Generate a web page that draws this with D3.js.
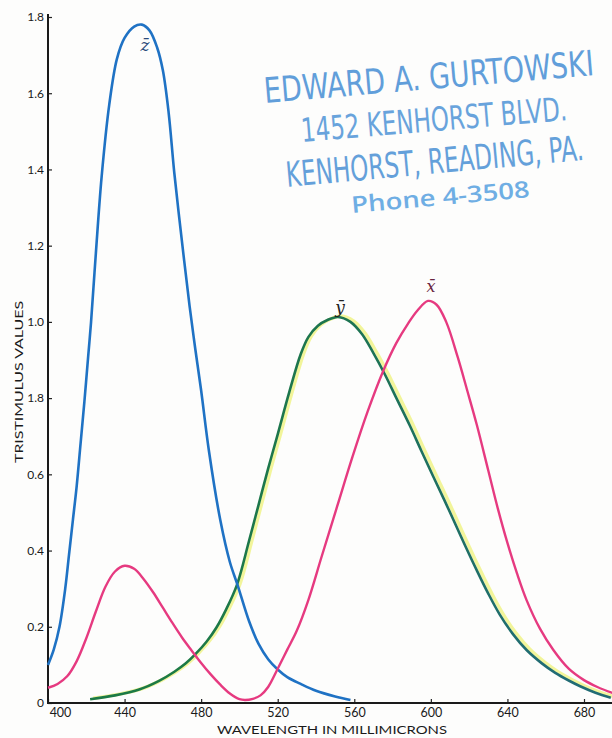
<!DOCTYPE html>
<html>
<head>
<meta charset="utf-8">
<script src="https://cdn.jsdelivr.net/npm/d3@7"></script>
<style>
  html, body { margin: 0; padding: 0; background: #fdfdfc; }
  svg { display: block; }
</style>
</head>
<body>
<script>
// ---- Data ----
const xTicks = [400, 440, 480, 520, 560, 600, 640, 680];
const xTickLabels = ["400", "440", "480", "520", "560", "600", "640", "680"];
const yTicks = [0, 0.2, 0.4, 0.6, 0.8, 1.0, 1.2, 1.4, 1.6, 1.8];
const yTickLabels = ["0", "0.2", "0.4", "0.6", "1.8", "1.0", "1.2", "1.4", "1.6", "1.8"];

// z-bar (blue)
const zWave = [400, 403, 406, 409, 411, 413, 415, 417, 419, 421, 422.5, 425, 428, 432, 436, 440, 445, 449, 453, 457, 460, 463, 466, 470, 474, 477, 480, 484, 490, 495, 499, 505, 510, 515, 520, 525, 532, 540, 550, 558];
const zVal  = [0.10, 0.14, 0.20, 0.30, 0.39, 0.48, 0.57, 0.68, 0.79, 0.91, 1.0, 1.18, 1.38, 1.57, 1.69, 1.745, 1.775, 1.78, 1.765, 1.72, 1.66, 1.55, 1.39, 1.21, 1.04, 0.927, 0.82, 0.664, 0.48, 0.37, 0.31, 0.215, 0.155, 0.115, 0.088, 0.068, 0.05, 0.032, 0.017, 0.008];

// x-bar (pink)
const xWave = [400, 405, 410, 415, 420, 425, 430, 435, 440, 445, 450, 455, 460, 465, 470, 475, 480, 485, 490, 495, 500, 503, 507, 511, 515, 520, 525, 530, 536, 543, 551, 559, 567, 575, 582, 588, 593, 598.5, 603, 608, 614, 619, 624, 630, 635, 640, 645, 650, 657, 664, 672, 680, 687, 695];
const xVal  = [0.04, 0.05, 0.07, 0.11, 0.17, 0.24, 0.305, 0.345, 0.36, 0.352, 0.325, 0.29, 0.25, 0.21, 0.172, 0.138, 0.105, 0.075, 0.048, 0.025, 0.01, 0.008, 0.011, 0.02, 0.042, 0.09, 0.14, 0.19, 0.27, 0.385, 0.515, 0.645, 0.765, 0.87, 0.945, 0.995, 1.03, 1.055, 1.045, 1.0, 0.908, 0.82, 0.73, 0.61, 0.51, 0.42, 0.34, 0.27, 0.195, 0.139, 0.09, 0.06, 0.042, 0.026];

// y-bar (green)
const yWave = [422, 435, 448, 458, 466, 472, 477, 483, 488, 493, 498.7, 505, 510, 515, 520, 526, 532, 536, 541, 546, 551.5, 558, 564, 570, 576, 582, 589, 595, 601, 607, 612, 618, 624, 630, 636, 643, 650, 658, 665, 672, 678, 686, 694];
const yVal  = [0.01, 0.02, 0.036, 0.058, 0.082, 0.104, 0.128, 0.162, 0.198, 0.245, 0.31, 0.425, 0.52, 0.615, 0.705, 0.815, 0.915, 0.96, 0.99, 1.005, 1.013, 1.0, 0.968, 0.918, 0.862, 0.8, 0.728, 0.662, 0.597, 0.533, 0.478, 0.412, 0.348, 0.287, 0.232, 0.18, 0.139, 0.104, 0.079, 0.059, 0.044, 0.027, 0.014];

const stampLines = ["EDWARD A. GURTOWSKI", "1452 KENHORST BLVD.", "KENHORST, READING, PA.", "Phone 4-3508"];

// ---- Drawing ----
const W = 612, H = 738;
const svg = d3.select("body").append("svg").attr("width", W).attr("height", H);
svg.append("rect").attr("width", W).attr("height", H).attr("fill", "#fdfdfc");

const x = d3.scaleLinear().domain([400, 680]).range([48, 584]);
const y = d3.scaleLinear().domain([0, 1.8]).range([703, 17]);

// gradient for the green curve (dark green rising, teal falling)
const defs = svg.append("defs");
const grad = defs.append("linearGradient").attr("id", "gGreen")
  .attr("gradientUnits", "userSpaceOnUse")
  .attr("x1", x(470)).attr("x2", x(660)).attr("y1", 0).attr("y2", 0);
grad.append("stop").attr("offset", "0%").attr("stop-color", "#1c7a46");
grad.append("stop").attr("offset", "45%").attr("stop-color", "#1d7450");
grad.append("stop").attr("offset", "100%").attr("stop-color", "#216c74");

const axisFont = "Lato, 'Open Sans', 'DejaVu Sans', sans-serif";

// Axes
const gy = svg.append("g").attr("transform", `translate(${x(400)},0)`)
  .call(d3.axisLeft(y).tickValues(yTicks).tickFormat((d, i) => yTickLabels[i])
    .tickSizeInner(-4).tickSizeOuter(0).tickPadding(4));
gy.select(".domain").remove();
gy.selectAll(".tick line").attr("stroke", "#222").attr("stroke-width", 1.2);
gy.selectAll(".tick text").attr("font-family", axisFont).attr("font-size", 12).attr("fill", "#1a1a1a");

const gx = svg.append("g").attr("transform", `translate(0,${y(0)})`)
  .call(d3.axisBottom(x).tickValues(xTicks).tickFormat((d, i) => xTickLabels[i])
    .tickSizeInner(-4).tickSizeOuter(0).tickPadding(5));
gx.select(".domain").remove();
gx.selectAll(".tick line").attr("stroke", "#222").attr("stroke-width", 1.2);
gx.selectAll(".tick text").attr("font-family", axisFont).attr("font-size", 12.5).attr("fill", "#1a1a1a")
  .attr("dx", d => d === 400 ? 12 : 0);

// axis lines
svg.append("line").attr("x1", x(400)).attr("x2", x(400)).attr("y1", 14).attr("y2", y(0) + 1)
  .attr("stroke", "#1a1a1a").attr("stroke-width", 2);
svg.append("line").attr("x1", x(400) - 1).attr("x2", W).attr("y1", y(0)).attr("y2", y(0))
  .attr("stroke", "#1a1a1a").attr("stroke-width", 2);

// axis titles
svg.append("text").attr("x", 332).attr("y", 734).attr("text-anchor", "middle")
  .attr("font-family", axisFont).attr("font-size", 12).attr("fill", "#1a1a1a")
  .attr("textLength", 230).attr("lengthAdjust", "spacingAndGlyphs")
  .text("WAVELENGTH IN MILLIMICRONS");
svg.append("text").attr("transform", "translate(23,382) rotate(-90)").attr("text-anchor", "middle")
  .attr("font-family", axisFont).attr("font-size", 12).attr("fill", "#1a1a1a")
  .attr("textLength", 162).attr("lengthAdjust", "spacingAndGlyphs")
  .text("TRISTIMULUS VALUES");

// curves
const line = d3.line().x(d => x(d[0])).y(d => y(d[1])).curve(d3.curveCatmullRom.alpha(0.5));
const zPts = zWave.map((w, i) => [w, zVal[i]]);
const xPts = xWave.map((w, i) => [w, xVal[i]]);
const yPts = yWave.map((w, i) => [w, yVal[i]]);

// yellow registration halo next to the green curve
svg.append("path").datum(yPts).attr("d", line).attr("fill", "none")
  .attr("stroke", "#eef27a").attr("stroke-width", 3.5).attr("opacity", 0.75)
  .attr("transform", "translate(3,-1)");
svg.append("path").datum(yPts).attr("d", line).attr("fill", "none")
  .attr("stroke", "url(#gGreen)").attr("stroke-width", 2.6);
svg.append("path").datum(zPts).attr("d", line).attr("fill", "none")
  .attr("stroke", "#1f72c4").attr("stroke-width", 2.6);
svg.append("path").datum(xPts).attr("d", line).attr("fill", "none")
  .attr("stroke", "#e63a80").attr("stroke-width", 2.4);

// curve labels (handwritten)
const labFont = "'DejaVu Serif', 'Liberation Serif', serif";
svg.append("text").attr("x", 145).attr("y", 51).attr("text-anchor", "middle")
  .attr("font-family", labFont).attr("font-style", "italic").attr("font-size", 17)
  .attr("fill", "#2b4a7a").text("z\u0304");
svg.append("text").attr("x", 340).attr("y", 313).attr("text-anchor", "middle")
  .attr("font-family", labFont).attr("font-style", "italic").attr("font-size", 17)
  .attr("fill", "#222").text("y\u0304");
svg.append("text").attr("x", 431).attr("y", 292).attr("text-anchor", "middle")
  .attr("font-family", labFont).attr("font-style", "italic").attr("font-size", 16)
  .attr("fill", "#6a2440").text("x\u0304");

// rubber stamp: natural-width text, squeezed horizontally with a scale transform
const stampFont = "'DejaVu Sans Condensed', 'Liberation Sans Narrow', 'DejaVu Sans', sans-serif";
const stampSpec = [
  {x0: 265, y0: 103, len: 331, ang: -4.85, fs: 35, font: stampFont, fill: "#5497d8", weight: 400},
  {x0: 302, y0: 142, len: 267, ang: -4.7, fs: 33, font: stampFont, fill: "#5c9cda", weight: 400},
  {x0: 287, y0: 187, len: 299, ang: -5.2, fs: 35, font: stampFont, fill: "#5899d8", weight: 400},
  {x0: 352, y0: 213, len: 179, ang: -5.1, fs: 23, font: "'Open Sans', Lato, sans-serif", fill: "#64a8e2", weight: 600}
];
stampSpec.forEach((s, i) => {
  const t = svg.append("text")
    .attr("font-family", s.font).attr("font-size", s.fs).attr("font-weight", s.weight)
    .attr("fill", s.fill).attr("opacity", 0.92)
    .text(stampLines[i]);
  const natural = t.node().getComputedTextLength() || s.len;
  const sx = s.len / natural;
  t.attr("transform", `translate(${s.x0},${s.y0}) rotate(${s.ang}) scale(${sx},1)`);
});
</script>
</body>
</html>
